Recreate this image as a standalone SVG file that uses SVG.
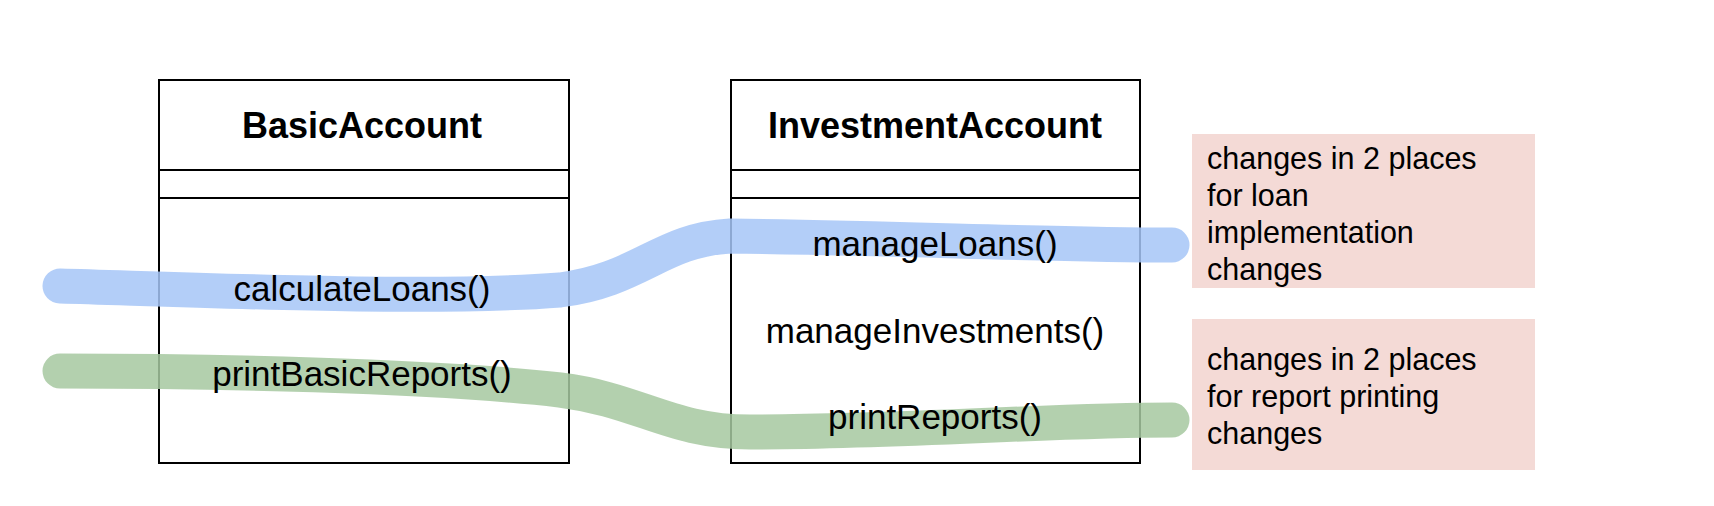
<svg xmlns="http://www.w3.org/2000/svg" width="1714" height="506" viewBox="0 0 1714 506">
<style>
.box{fill:#fff;stroke:#000;stroke-width:2}
.ln{stroke:#000;stroke-width:2}
.title{font-family:"Liberation Sans",Arial,sans-serif;font-weight:bold;font-size:36px;text-anchor:middle}
.m{font-family:"Liberation Sans",Arial,sans-serif;font-size:35px;text-anchor:middle}
.n{font-family:"Liberation Sans",Arial,sans-serif;font-size:30.5px}
.band{fill:none;stroke-width:35;stroke-linecap:round;opacity:0.85}
</style>
<rect width="1714" height="506" fill="#fff"/>
<g id="BasicAccount">
<rect class="box" x="159" y="80" width="410" height="383"/>
<line class="ln" x1="159" y1="170" x2="569" y2="170"/>
<line class="ln" x1="159" y1="198" x2="569" y2="198"/>
</g>
<g id="InvestmentAccount">
<rect class="box" x="731" y="80" width="409" height="383"/>
<line class="ln" x1="731" y1="170" x2="1140" y2="170"/>
<line class="ln" x1="731" y1="198" x2="1140" y2="198"/>
</g>
<g id="connectors">
<path class="band" stroke="#a6c5f7" d="M60,286 C200,290 430,300 560,290 C640,280 660,240 730,236 C900,238 1050,245 1172,245"/>
<path class="band" stroke="#a6c8a0" d="M60,371 C200,371 430,375 560,390 C640,400 670,432 750,432 C900,432 1050,420 1172,420"/>
</g>
<g id="labels">
<text class="title" x="362" y="138">BasicAccount</text>
<text class="title" x="935" y="138">InvestmentAccount</text>
<text class="m" x="362" y="301">calculateLoans()</text>
<text class="m" x="362" y="386">printBasicReports()</text>
<text class="m" x="935" y="256">manageLoans()</text>
<text class="m" x="935" y="343">manageInvestments()</text>
<text class="m" x="935" y="429">printReports()</text>
</g>
<g id="note1">
<rect x="1192" y="134" width="343" height="154" fill="#f4dad6"/>
<text class="n" x="1207" y="169">changes in 2 places</text>
<text class="n" x="1207" y="206">for loan</text>
<text class="n" x="1207" y="243">implementation</text>
<text class="n" x="1207" y="280">changes</text>
</g>
<g id="note2">
<rect x="1192" y="319" width="343" height="151" fill="#f4dad6"/>
<text class="n" x="1207" y="370">changes in 2 places</text>
<text class="n" x="1207" y="407">for report printing</text>
<text class="n" x="1207" y="444">changes</text>
</g>
</svg>
